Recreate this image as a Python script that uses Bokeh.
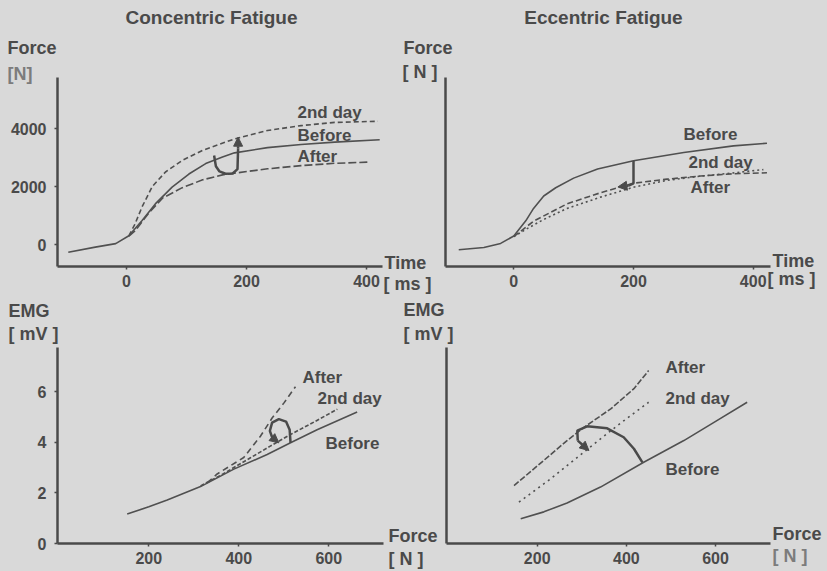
from bokeh.plotting import figure
from bokeh.layouts import row, column
from bokeh.models import Label, Arrow, NormalHead, Range1d, FixedTicker
from bokeh.embed import file_html
from bokeh.resources import INLINE

# ---------------- data ----------------
# Panel 1: Concentric fatigue, force [N] vs time [ms]
con_before_t = [-97, -52, -18, 4, 26, 48, 76, 104, 132, 160, 180, 235, 291, 347, 422]
con_before_f = [-270, -90, 30, 300, 830, 1400, 1980, 2430, 2790, 3020, 3160, 3340, 3450, 3530, 3610]
con_2nd_t = [4, 14, 26, 43, 65, 93, 127, 180, 235, 291, 347, 419]
con_2nd_f = [300, 700, 1300, 2000, 2500, 2900, 3250, 3640, 3930, 4100, 4210, 4250]
con_after_t = [4, 15, 37, 60, 93, 127, 160, 180, 235, 291, 347, 403]
con_after_f = [290, 483, 1080, 1600, 1960, 2230, 2400, 2460, 2610, 2720, 2800, 2840]

# Panel 2: Eccentric fatigue, force [N] vs time [ms]
ecc_before_t = [-92, -50, -22, 0, 20, 33, 50, 70, 100, 140, 200, 284, 367, 423]
ecc_before_f = [-150, -70, 80, 350, 900, 1350, 1800, 2100, 2450, 2780, 3080, 3380, 3620, 3715]
ecc_2nd_t = [0, 25, 50, 89, 145, 200, 256, 312, 367, 417]
ecc_2nd_f = [330, 650, 950, 1350, 1760, 2120, 2370, 2520, 2640, 2760]
ecc_after_t = [0, 33, 89, 145, 200, 256, 312, 367, 423]
ecc_after_f = [330, 885, 1517, 1920, 2265, 2413, 2528, 2609, 2643]

# Panel 3: Concentric, EMG [mV] vs force [N]
con_emg_before_f = [152, 200, 241, 315, 389, 463, 515, 574, 663]
con_emg_before_v = [1.17, 1.45, 1.72, 2.25, 2.94, 3.52, 3.98, 4.50, 5.20]
con_emg_2nd_f = [315, 360, 426, 470, 515, 570, 619]
con_emg_2nd_v = [2.28, 2.70, 3.39, 3.85, 4.31, 4.83, 5.31]
con_emg_after_f = [330, 352, 411, 448, 474, 500, 526]
con_emg_after_v = [2.40, 2.75, 3.40, 4.24, 4.96, 5.55, 6.20]

# Panel 4: Eccentric, EMG [mV] vs force [N]
ecc_emg_before_f = [163, 215, 267, 342, 439, 529, 604, 671]
ecc_emg_before_v = [0.98, 1.25, 1.60, 2.22, 3.19, 4.04, 4.83, 5.54]
ecc_emg_2nd_f = [159, 230, 305, 380, 450]
ecc_emg_2nd_v = [1.63, 2.54, 3.59, 4.63, 5.54]
ecc_emg_after_f = [148, 193, 267, 305, 365, 417, 450]
ecc_emg_after_v = [2.28, 2.94, 4.04, 4.56, 5.28, 6.07, 6.78]

# tick values
time_ticks = [0, 200, 400]
force_ticks = [0, 2000, 4000]
emg_force_ticks = [200, 400, 600]
emg_ticks = [0, 2, 4, 6]

# ---------------- styling ----------------
FONT = "Liberation Sans"
INK = "#4a4a4a"
LINE = "#505050"
BG = "#d9d9d9"
W, H = 827, 571
TITLE_SIZE = "19px"
AXLAB_SIZE = "18px"
CURVE_SIZE = "17px"


def make_fig(w, h, origin, frame, xr, yr):
    ox, oy = origin
    L, T, R, B = frame
    p = figure(width=w, height=h, x_range=Range1d(*xr), y_range=Range1d(*yr),
               toolbar_location=None, output_backend="svg",
               min_border_left=L - ox, min_border_right=ox + w - R,
               min_border_top=T - oy, min_border_bottom=oy + h - B)
    p.background_fill_alpha = 0
    p.border_fill_alpha = 0
    p.outline_line_color = None
    p.grid.visible = False
    for ax in p.axis:
        ax.axis_line_width = 2.5
        ax.axis_line_color = INK
        ax.major_tick_line_color = INK
        ax.major_tick_line_width = 1.5
        ax.major_tick_out = 3
        ax.major_tick_in = 0
        ax.minor_tick_line_color = None
        ax.major_label_text_font = FONT
        ax.major_label_text_font_style = "bold"
        ax.major_label_text_font_size = "16px"
        ax.major_label_text_color = INK
    p.xaxis.major_label_standoff = 5
    p.yaxis.major_label_standoff = 8

    def conv(px, py):
        x = xr[0] + (px - L) / (R - L) * (xr[1] - xr[0])
        y = yr[1] - (py - T) / (B - T) * (yr[1] - yr[0])
        return x, y
    p._conv = conv
    return p


# page-sized transparent figure that carries the texts lying outside the plot frames
over = figure(width=W, height=H, x_range=Range1d(0, W), y_range=Range1d(H, 0),
              toolbar_location=None, output_backend="svg",
              x_axis_location=None, y_axis_location=None,
              min_border=0, min_border_left=0, min_border_right=0,
              min_border_top=0, min_border_bottom=0)
over.background_fill_alpha = 0
over.border_fill_alpha = 0
over.outline_line_color = None
over.grid.visible = False
over.margin = (-H, 0, 0, 0)


def label(p, s, px, py, size=CURVE_SIZE, color=INK, align="left"):
    """Text placed at page pixel (px, py); in-frame texts go to the panel."""
    if p is over:
        x, y = px, py
    else:
        x, y = p._conv(px, py)
    p.add_layout(Label(x=x, y=y, text=s, text_font=FONT, text_font_style="bold",
                       text_font_size=size, text_color=color, text_align=align,
                       text_baseline="middle"))


def curved_arrow(p, xs, ys, hx, hy):
    p.line(xs, ys, line_color=INK, line_width=2.5)
    p.add_layout(Arrow(x_start=xs[-1], y_start=ys[-1], x_end=hx, y_end=hy,
                       line_color=INK, line_width=2.5,
                       end=NormalHead(size=9, fill_color=INK, line_color=INK)))


def ranges_from_ticks(frame, xa, xb, ya, yb):
    L, T, R, B = frame
    sx = (xb[1] - xa[1]) / (xb[0] - xa[0])
    sy = (yb[1] - ya[1]) / (yb[0] - ya[0])
    xr = (xa[0] + (L - xa[1]) / sx, xa[0] + (R - xa[1]) / sx)
    yr = (ya[0] + (B - ya[1]) / sy, ya[0] + (T - ya[1]) / sy)
    return xr, yr


# ---------------- Panel 1 ----------------
fr1 = (57, 77, 382, 266)
xr1, yr1 = ranges_from_ticks(fr1, (0, 126), (400, 366), (0, 244), (4000, 128))
p1 = make_fig(440, 296, (0, 0), fr1, xr1, yr1)
p1.xaxis.ticker = FixedTicker(ticks=time_ticks)
p1.yaxis.ticker = FixedTicker(ticks=force_ticks)
p1.line(con_2nd_t, con_2nd_f, line_color=LINE, line_width=1.6, line_dash="5 3")
p1.line(con_after_t, con_after_f, line_color=LINE, line_width=1.6, line_dash="8 3")
p1.line(con_before_t, con_before_f, line_color=LINE, line_width=1.6)
curved_arrow(p1, [146, 149, 155, 165, 177, 185, 186], [3069, 2700, 2520, 2440, 2450, 2600, 3300], 186, 3700)
label(p1, "2nd day", 297, 112)
label(p1, "Before", 297, 135)
label(p1, "After", 297, 156)
label(over, "Concentric Fatigue", 211, 17, size=TITLE_SIZE, align="center")
label(over, "Force", 7, 47, size=AXLAB_SIZE)
label(over, "[N]", 7, 73, size=AXLAB_SIZE, color="#7c7c7c")
label(over, "Time", 384, 262, size=AXLAB_SIZE)
label(over, "[ ms ]", 383, 283, size=AXLAB_SIZE)

# ---------------- Panel 2 ----------------
fr2 = (445, 67, 770, 266)
xr2, yr2 = ranges_from_ticks(fr2, (0, 513.3), (400, 752.7), (0, 244), (4000, 128))
p2 = make_fig(427, 296, (400, 0), fr2, xr2, yr2)
p2.margin = (0, 0, 0, -40)
p2.xaxis.ticker = FixedTicker(ticks=time_ticks)
p2.yaxis.ticker = FixedTicker(ticks=[])
p2.line(ecc_2nd_t, ecc_2nd_f, line_color=LINE, line_width=1.6, line_dash="2 3")
p2.line(ecc_after_t, ecc_after_f, line_color=LINE, line_width=1.6, line_dash="6 3")
p2.line(ecc_before_t, ecc_before_f, line_color=LINE, line_width=1.6)
curved_arrow(p2, [200, 200, 192], [3069, 2260, 2180], 174, 2130)
label(p2, "Before", 683, 127)
label(p2, "2nd day", 688, 156)
label(p2, "After", 690, 183)
label(over, "Eccentric Fatigue", 603, 17, size=TITLE_SIZE, align="center")
label(over, "Force", 403, 47, size=AXLAB_SIZE)
label(over, "[ N ]", 402, 71, size=AXLAB_SIZE)
label(over, "Time", 772, 260, size=AXLAB_SIZE)
label(over, "[ ms ]", 767, 278, size=AXLAB_SIZE)

# ---------------- Panel 3 ----------------
fr3 = (57, 347, 383, 545)
xr3, yr3 = ranges_from_ticks(fr3, (200, 148.3), (600, 328.3), (0, 545), (6, 391.7))
p3 = make_fig(440, 275, (0, 296), fr3, xr3, yr3)
p3.xaxis.ticker = FixedTicker(ticks=emg_force_ticks)
p3.yaxis.ticker = FixedTicker(ticks=emg_ticks)
p3.line(con_emg_2nd_f, con_emg_2nd_v, line_color=LINE, line_width=1.6, line_dash="4 2")
p3.line(con_emg_after_f, con_emg_after_v, line_color=LINE, line_width=1.6, line_dash="6 4")
p3.line(con_emg_before_f, con_emg_before_v, line_color=LINE, line_width=1.6)
curved_arrow(p3, [515, 513, 505, 489, 474, 469, 474], [3.98, 4.5, 4.82, 4.92, 4.78, 4.45, 4.2], 489, 3.98)
label(p3, "After", 302, 377)
label(p3, "2nd day", 317, 399)
label(p3, "Before", 325, 444)
label(over, "EMG", 8, 310, size=AXLAB_SIZE)
label(over, "[ mV ]", 8, 333, size=AXLAB_SIZE)
label(over, "Force", 388, 535, size=AXLAB_SIZE)
label(over, "[ N ]", 388, 558, size=AXLAB_SIZE)

# ---------------- Panel 4 ----------------
fr4 = (446, 347, 770, 543)
xr4, yr4 = ranges_from_ticks(fr4, (200, 536.7), (600, 715), (0, 543.3), (6, 390))
p4 = make_fig(427, 275, (400, 296), fr4, xr4, yr4)
p4.margin = (0, 0, 0, -40)
p4.xaxis.ticker = FixedTicker(ticks=emg_force_ticks)
p4.yaxis.ticker = FixedTicker(ticks=[])
p4.line(ecc_emg_2nd_f, ecc_emg_2nd_v, line_color=LINE, line_width=1.6, line_dash="2 4")
p4.line(ecc_emg_after_f, ecc_emg_after_v, line_color=LINE, line_width=1.6, line_dash="6 2")
p4.line(ecc_emg_before_f, ecc_emg_before_v, line_color=LINE, line_width=1.6)
curved_arrow(p4, [436, 417, 394, 357, 312, 290, 291], [3.19, 3.72, 4.17, 4.52, 4.60, 4.43, 4.04], 316, 3.65)
label(p4, "After", 665, 367)
label(p4, "2nd day", 665, 398)
label(p4, "Before", 665, 469)
label(over, "EMG", 403, 309, size=AXLAB_SIZE)
label(over, "[ mV ]", 403, 333, size=AXLAB_SIZE)
label(over, "Force", 772, 533, size=AXLAB_SIZE)
label(over, "[ N ]", 772, 555, size=AXLAB_SIZE, color="#7c7c7c")

layout = column(row(p1, p2, spacing=0), row(p3, p4, spacing=0), over, spacing=0,
                styles={"background-color": BG})

open("out.html", "w").write(file_html(layout, INLINE))
